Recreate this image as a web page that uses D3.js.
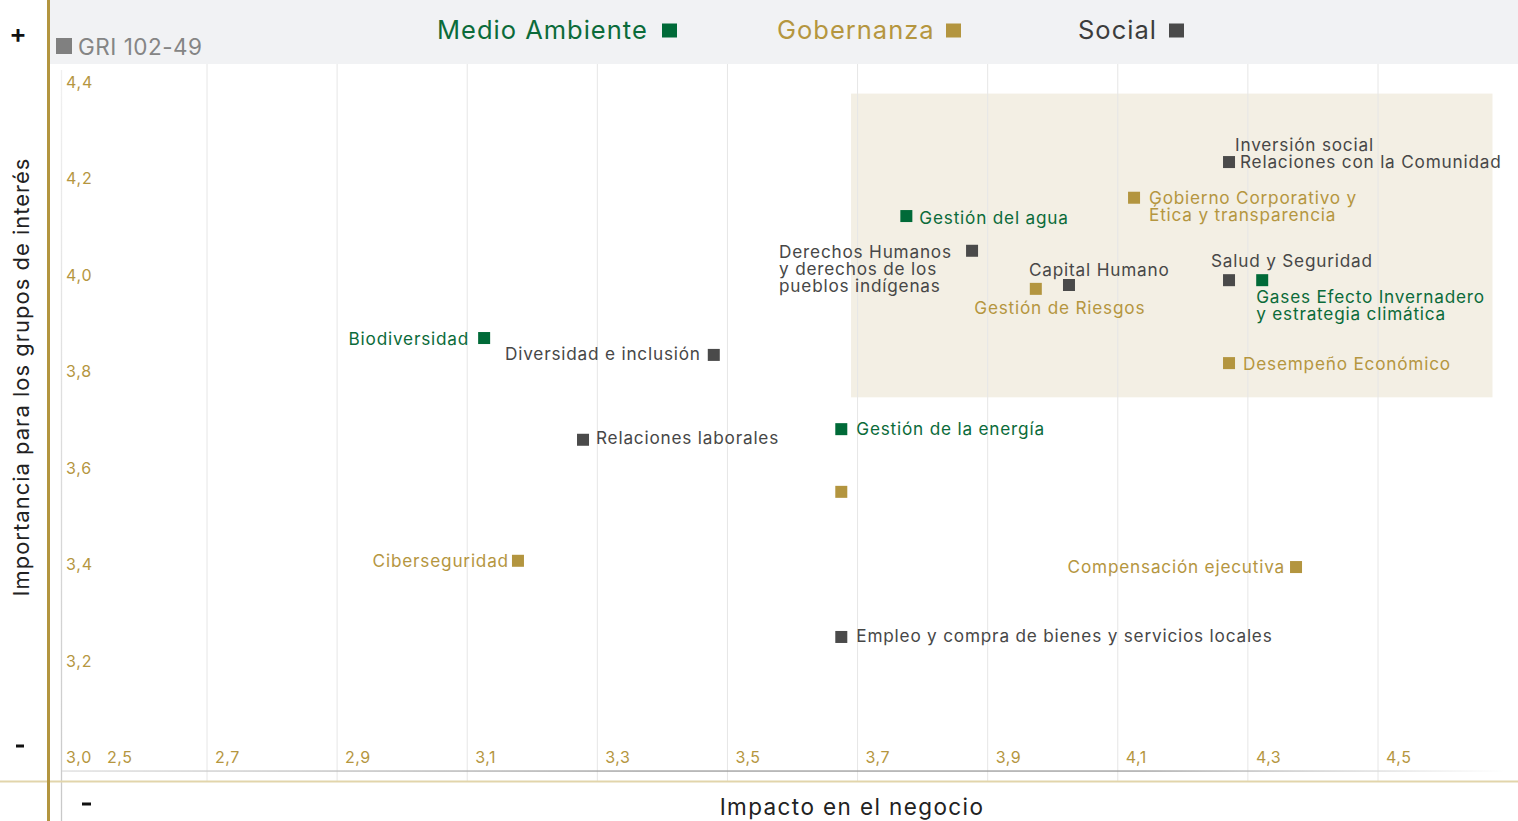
<!DOCTYPE html>
<html>
<head>
<meta charset="utf-8">
<script src="https://cdn.jsdelivr.net/npm/d3@7"></script>
<style>
  html, body { margin: 0; padding: 0; background: #ffffff; }
  svg { display: block; }
  text { font-family: "Inter", "Noto Sans", sans-serif; }
</style>
</head>
<body>
<svg id="chart" width="1518" height="821"></svg>
<script>
// ---------- data ----------
const topics = [
  "Gestión del agua",
  "Biodiversidad",
  "Gases Efecto Invernadero|y estrategia climática",
  "Gestión de la energía",
  "Gobierno Corporativo y|Ética y transparencia",
  "Gestión de Riesgos",
  "Desempeño Económico",
  "",
  "Ciberseguridad",
  "Compensación ejecutiva",
  "Inversión social|Relaciones con la Comunidad",
  "Derechos Humanos|y derechos de los|pueblos indígenas",
  "Capital Humano",
  "Salud y Seguridad",
  "Diversidad e inclusión",
  "Relaciones laborales",
  "Empleo y compra de bienes y servicios locales"
];
const groups = [
  "Medio Ambiente", "Medio Ambiente", "Medio Ambiente", "Medio Ambiente",
  "Gobernanza", "Gobernanza", "Gobernanza", "Gobernanza", "Gobernanza", "Gobernanza",
  "Social", "Social", "Social", "Social", "Social", "Social", "Social"
];
// Impacto en el negocio
const impacto = [3.775, 3.126, 4.322, 3.675, 4.125, 3.974, 4.271, 3.675, 3.178, 4.374,
                 4.271, 3.876, 4.025, 4.271, 3.479, 3.278, 3.675];
// Importancia para los grupos de interés
const importancia = [4.151, 3.898, 4.018, 3.709, 4.189, 4.000, 3.846, 3.579, 3.436, 3.423,
                     4.263, 4.079, 4.008, 4.018, 3.863, 3.687, 3.278];

const legendGroups = ["Medio Ambiente", "Gobernanza", "Social"];
const xTicks = [2.5, 2.7, 2.9, 3.1, 3.3, 3.5, 3.7, 3.9, 4.1, 4.3, 4.5];
const yTicks = [3.0, 3.2, 3.4, 3.6, 3.8, 4.0, 4.2, 4.4];
const xTickLabels = ["2,5", "2,7", "2,9", "3,1", "3,3", "3,5", "3,7", "3,9", "4,1", "4,3", "4,5"];
const yTickLabels = ["3,0", "3,2", "3,4", "3,6", "3,8", "4,0", "4,2", "4,4"];
const highlightX = [3.69, 4.676];
const highlightY = [3.775, 4.405];

// ---------- layout / style (not data) ----------
const colors = { "Medio Ambiente": "#006a38", "Gobernanza": "#b3953f", "Social": "#4a4a4a" };
const textColors = { "Medio Ambiente": "#0b6b3a", "Gobernanza": "#b5963f", "Social": "#474747" };
// label offsets relative to marker centre: [dx, dy, anchor]
const labelLayout = [
  [13, 1, "start"], [-15, 0, "end"], [-6, 16, "start"], [15, -1, "start"],
  [15, 0, "start"], [24, 19, "middle"], [14, 0, "start"], [0, 0, "start"],
  [-9, 0, "end"], [-11, -1, "end"],
  [6, -18, "start"], [-193, 1, "start"], [-40, -16, "start"], [-18, -20, "start"],
  [-13, -1, "end"], [13, -2, "start"], [15, -1, "start"]
];
const lineOffsets = { 10: [0, 5] }; // second line of "Inversión social" shifted right

const svg = d3.select("#chart");
const W = 1518, H = 821;

const x = d3.scaleLinear().domain([2.7, 4.5]).range([207, 1378]);
const y = d3.scaleLinear().domain([3.0, 4.4]).range([771, 96]);

const defs = svg.append("defs");
const gradH = defs.append("linearGradient").attr("id", "gridH").attr("x1", "0%").attr("x2", "100%");
gradH.append("stop").attr("offset", "0%").attr("stop-color", "#e4e4e4");
gradH.append("stop").attr("offset", "85%").attr("stop-color", "#e4e4e4");
gradH.append("stop").attr("offset", "100%").attr("stop-color", "#e4e4e4").attr("stop-opacity", 0.2);
const gradAx = defs.append("linearGradient").attr("id", "axisX").attr("gradientUnits", "userSpaceOnUse")
  .attr("x1", 62).attr("x2", 1505).attr("y1", 0).attr("y2", 0);
gradAx.append("stop").attr("offset", "0%").attr("stop-color", "#dddddd");
gradAx.append("stop").attr("offset", "40%").attr("stop-color", "#9a9a9a");
gradAx.append("stop").attr("offset", "75%").attr("stop-color", "#9a9a9a");
gradAx.append("stop").attr("offset", "100%").attr("stop-color", "#ffffff");
const gradAy = defs.append("linearGradient").attr("id", "axisY").attr("gradientUnits", "userSpaceOnUse")
  .attr("x1", 0).attr("x2", 0).attr("y1", 70).attr("y2", 821);
gradAy.append("stop").attr("offset", "0%").attr("stop-color", "#f0f0f0");
gradAy.append("stop").attr("offset", "100%").attr("stop-color", "#c8c8c8");

// top band
svg.append("rect").attr("x", 50).attr("y", 0).attr("width", W - 50).attr("height", 64).attr("fill", "#f1f2f4");

// highlight area
svg.append("rect")
  .attr("x", x(highlightX[0])).attr("y", y(highlightY[1]))
  .attr("width", x(highlightX[1]) - x(highlightX[0]))
  .attr("height", y(highlightY[0]) - y(highlightY[1]))
  .attr("fill", "#f3efe4");

// gridlines
const gridV = svg.append("g");
gridV.selectAll("line").data(xTicks.slice(1)).join("line")
  .attr("x1", d => x(d)).attr("x2", d => x(d))
  .attr("y1", 64).attr("y2", 782)
  .attr("stroke", "#e6e6e6").attr("stroke-width", 1);
const gridH = svg.append("g");
gridH.selectAll("line").data(yTicks.slice(1)).join("line")
  .attr("x1", 62).attr("x2", 1492)
  .attr("y1", d => y(d)).attr("y2", d => y(d))
  .attr("stroke", "url(#gridH)").attr("stroke-width", 1.2);

// axes lines
svg.append("line").attr("x1", 61.5).attr("x2", 61.5).attr("y1", 70).attr("y2", H)
  .attr("stroke", "url(#axisY)").attr("stroke-width", 1.3);
svg.append("rect").attr("x", 62).attr("y", y(3.0) - 0.6).attr("width", 1443).attr("height", 1.3)
  .attr("fill", "url(#axisX)");

// frame gold lines
svg.append("rect").attr("x", 0).attr("y", 780.5).attr("width", W).attr("height", 2).attr("fill", "#e2d5ab");
svg.append("rect").attr("x", 47).attr("y", 0).attr("width", 3).attr("height", H).attr("fill", "#b3953f");

// tick labels
svg.append("g").selectAll("text").data(yTicks).join("text")
  .attr("x", 66).attr("y", d => y(d) - 14)
  .attr("dominant-baseline", "central")
  .attr("fill", "#b5963f").attr("font-size", 16).attr("letter-spacing", 0.8)
  .text((d, i) => yTickLabels[i]);
svg.append("g").selectAll("text").data(xTicks).join("text")
  .attr("x", (d, i) => i === 0 ? 107 : x(d) + 8).attr("y", 757)
  .attr("dominant-baseline", "central")
  .attr("fill", "#b5963f").attr("font-size", 16).attr("letter-spacing", 0.5)
  .text((d, i) => xTickLabels[i]);

// axis titles
svg.append("text").attr("transform", "translate(21,377) rotate(-90)")
  .attr("text-anchor", "middle").attr("dominant-baseline", "central")
  .attr("font-size", 22).attr("letter-spacing", 1).attr("fill", "#222")
  .text("Importancia para los grupos de interés");
svg.append("text").attr("x", 852).attr("y", 806)
  .attr("text-anchor", "middle").attr("dominant-baseline", "central")
  .attr("font-size", 22.5).attr("letter-spacing", 1.4).attr("fill", "#222")
  .text("Impacto en el negocio");

// + / - markers
svg.append("text").attr("x", 18).attr("y", 33).attr("text-anchor", "middle").attr("dominant-baseline", "central")
  .attr("font-size", 26).attr("font-weight", 600).attr("fill", "#111").text("+");
svg.append("rect").attr("x", 16).attr("y", 744.5).attr("width", 8).attr("height", 3).attr("fill", "#111");
svg.append("rect").attr("x", 82).attr("y", 802.5).attr("width", 9).attr("height", 3).attr("fill", "#111");

// legend
const legendPos = [[437, 662], [777, 946], [1078, 1169]];
legendGroups.forEach((g, i) => {
  svg.append("text").attr("x", legendPos[i][0]).attr("y", 29)
    .attr("dominant-baseline", "central").attr("font-size", 25.5).attr("letter-spacing", 1)
    .attr("fill", i === 2 ? "#3c3c3c" : textColors[g]).text(g);
  svg.append("rect").attr("x", legendPos[i][1]).attr("y", 23.5).attr("width", 15).attr("height", 14)
    .attr("fill", colors[g]);
});
svg.append("rect").attr("x", 56).attr("y", 38).attr("width", 16).attr("height", 16).attr("fill", "#808080");
svg.append("text").attr("x", 78).attr("y", 46.5).attr("dominant-baseline", "central")
  .attr("font-size", 22.5).attr("letter-spacing", 0.5).attr("fill", "#858585").text("GRI 102-49");

// markers
const S = 12;
const pts = topics.map((t, i) => ({ t, g: groups[i], cx: x(impacto[i]), cy: y(importancia[i]), i }));
svg.append("g").selectAll("rect").data(pts).join("rect")
  .attr("x", d => d.cx - S / 2).attr("y", d => d.cy - S / 2)
  .attr("width", S).attr("height", S)
  .attr("fill", d => colors[d.g]);

// labels
const lg = svg.append("g");
pts.forEach(d => {
  if (!d.t) return;
  const [dx, dy, anchor] = labelLayout[d.i];
  const lines = d.t.split("|");
  const tx = lg.append("text")
    .attr("text-anchor", anchor)
    .attr("font-size", 17.2)
    .attr("letter-spacing", 0.8)
    .attr("fill", textColors[d.g]);
  lines.forEach((ln, k) => {
    const extra = (lineOffsets[d.i] || [])[k] || 0;
    tx.append("tspan")
      .attr("x", d.cx + dx + extra)
      .attr("y", d.cy + dy + k * 17)
      .attr("dominant-baseline", "central")
      .text(ln);
  });
});
</script>
</body>
</html>
